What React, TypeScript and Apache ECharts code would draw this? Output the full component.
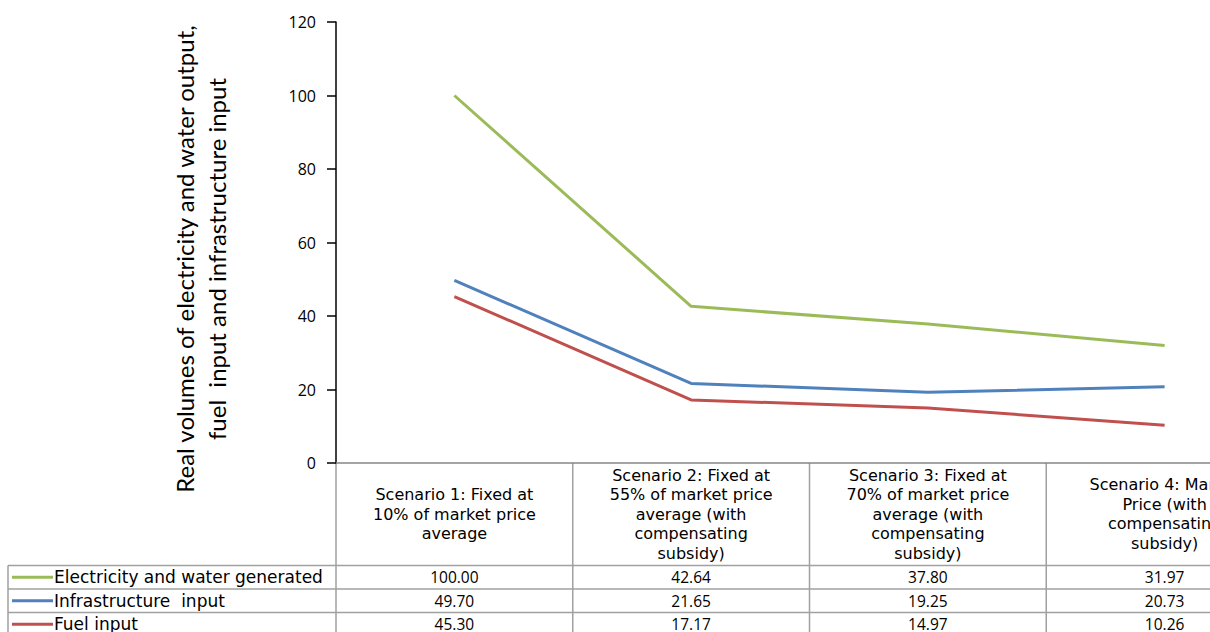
import React, { useEffect, useRef } from "react";
import * as echarts from "echarts";

// Scenario headings (pre-wrapped as they appear in the table header)
const categories = [
  "Scenario 1: Fixed at\n10% of market price\naverage",
  "Scenario 2: Fixed at\n55% of market price\naverage (with\ncompensating\nsubsidy)",
  "Scenario 3: Fixed at\n70% of market price\naverage (with\ncompensating\nsubsidy)",
  "Scenario 4: Market\nPrice (with\ncompensating\nsubsidy)",
];

const seriesNames = [
  "Electricity and water generated",
  "Infrastructure  input",
  "Fuel input",
];
const seriesColors = ["#9BBB59", "#4F81BD", "#C0504D"];

const electricityWater = [100.0, 42.64, 37.8, 31.97];
const infrastructureInput = [49.7, 21.65, 19.25, 20.73];
const fuelInput = [45.3, 17.17, 14.97, 10.26];
const seriesValues = [electricityWater, infrastructureInput, fuelInput];

const yTicks = [0, 20, 40, 60, 80, 100, 120];

const yTitle = [
  "Real volumes of electricity and water output,",
  "fuel  input and infrastructure input",
];

// Layout of the plot area and the data table below it; the last table
// column runs past the right edge of the visible window.
const CANVAS_W = 1300;
const CANVAS_H = 640;
const GRID_LEFT = 336;
const GRID_TOP = 22;
const GRID_WIDTH = 947;
const GRID_HEIGHT = 441;
const TABLE_LEFT = 8;
const HEADER_BOTTOM = 565.5;
const ROW_H = 23.5;
const TABLE_BOTTOM = 640;

const FONT = "'Open Sans', 'DejaVu Sans', sans-serif";
const WIDE_FONT = "'DejaVu Sans', 'Open Sans', sans-serif";
const LINE_GRAY = "#a0a0a0";

function buildTable() {
  const els: any[] = [];
  const colW = GRID_WIDTH / categories.length;
  const axisY = GRID_TOP + GRID_HEIGHT;
  const right = GRID_LEFT + GRID_WIDTH;

  // horizontal row rules
  for (let r = 0; r <= seriesNames.length; r++) {
    const y = HEADER_BOTTOM + r * ROW_H;
    els.push({
      type: "line",
      shape: { x1: TABLE_LEFT, y1: y, x2: right, y2: y },
      style: { stroke: LINE_GRAY, lineWidth: 1.5 },
      silent: true,
    });
  }
  // left edge of the legend column
  els.push({
    type: "line",
    shape: { x1: TABLE_LEFT, y1: HEADER_BOTTOM, x2: TABLE_LEFT, y2: TABLE_BOTTOM },
    style: { stroke: LINE_GRAY, lineWidth: 1.5 },
    silent: true,
  });
  // column dividers
  for (let c = 0; c <= categories.length; c++) {
    const x = GRID_LEFT + c * colW;
    els.push({
      type: "line",
      shape: { x1: x, y1: axisY, x2: x, y2: TABLE_BOTTOM },
      style: { stroke: LINE_GRAY, lineWidth: 1.5 },
      silent: true,
    });
  }
  // legend keys, names and values
  seriesNames.forEach((name, r) => {
    const cy = HEADER_BOTTOM + r * ROW_H + ROW_H / 2;
    els.push({
      type: "line",
      shape: { x1: TABLE_LEFT + 4, y1: cy, x2: 53, y2: cy },
      style: { stroke: seriesColors[r], lineWidth: 3 },
      silent: true,
    });
    els.push({
      type: "text",
      x: 54,
      y: cy,
      style: {
        text: name,
        font: `17px ${WIDE_FONT}`,
        fill: "#000",
        textAlign: "left",
        textVerticalAlign: "middle",
      },
      silent: true,
    });
    seriesValues[r].forEach((v, c) => {
      els.push({
        type: "text",
        x: GRID_LEFT + c * colW + colW / 2,
        y: cy,
        style: {
          text: v.toFixed(2),
          font: `15.5px ${FONT}`,
          fill: "#000",
          textAlign: "center",
          textVerticalAlign: "middle",
        },
        silent: true,
      });
    });
  });
  // y axis title
  els.push({
    type: "text",
    x: 200,
    y: 259,
    rotation: Math.PI / 2,
    style: {
      text: yTitle.join("\n"),
      font: `24px Lato, sans-serif`,
      lineHeight: 32,
      fill: "#000",
      textAlign: "center",
      textVerticalAlign: "middle",
    },
    silent: true,
  });
  return els;
}

export default function App() {
  const ref = useRef<HTMLDivElement>(null);

  useEffect(() => {
    if (!ref.current) return;
    const chart = echarts.init(ref.current, null, { renderer: "svg" });
    chart.setOption({
      animation: false,
      backgroundColor: "#fff",
      grid: {
        left: GRID_LEFT,
        top: GRID_TOP,
        width: GRID_WIDTH,
        height: GRID_HEIGHT,
        containLabel: false,
      },
      xAxis: {
        type: "category",
        data: categories,
        boundaryGap: true,
        axisLine: { lineStyle: { color: "#868686", width: 1.5 } },
        axisTick: { show: false },
        axisLabel: {
          interval: 0,
          margin: 51,
          verticalAlign: "middle",
          align: "center",
          lineHeight: 19.5,
          fontFamily: WIDE_FONT,
          fontSize: 16,
          color: "#000",
        },
      },
      yAxis: {
        type: "value",
        min: yTicks[0],
        max: yTicks[yTicks.length - 1],
        interval: 20,
        splitLine: { show: false },
        axisLine: { show: true, lineStyle: { color: "#000", width: 1.5 } },
        axisTick: { show: true, length: 9, lineStyle: { color: "#000", width: 1.5 } },
        axisLabel: {
          margin: 20,
          fontFamily: FONT,
          fontSize: 16,
          color: "#000",
        },
      },
      series: seriesNames.map((name, i) => ({
        name,
        type: "line",
        data: seriesValues[i],
        symbol: "none",
        lineStyle: { color: seriesColors[i], width: 3 },
        itemStyle: { color: seriesColors[i] },
      })),
      graphic: buildTable(),
    });
    return () => chart.dispose();
  }, []);

  return (
    <div
      style={{
        position: "absolute",
        left: 0,
        top: 0,
        width: 1210,
        height: 632,
        overflow: "hidden",
        background: "#fff",
      }}
    >
      <div ref={ref} style={{ width: CANVAS_W, height: CANVAS_H }} />
    </div>
  );
}
